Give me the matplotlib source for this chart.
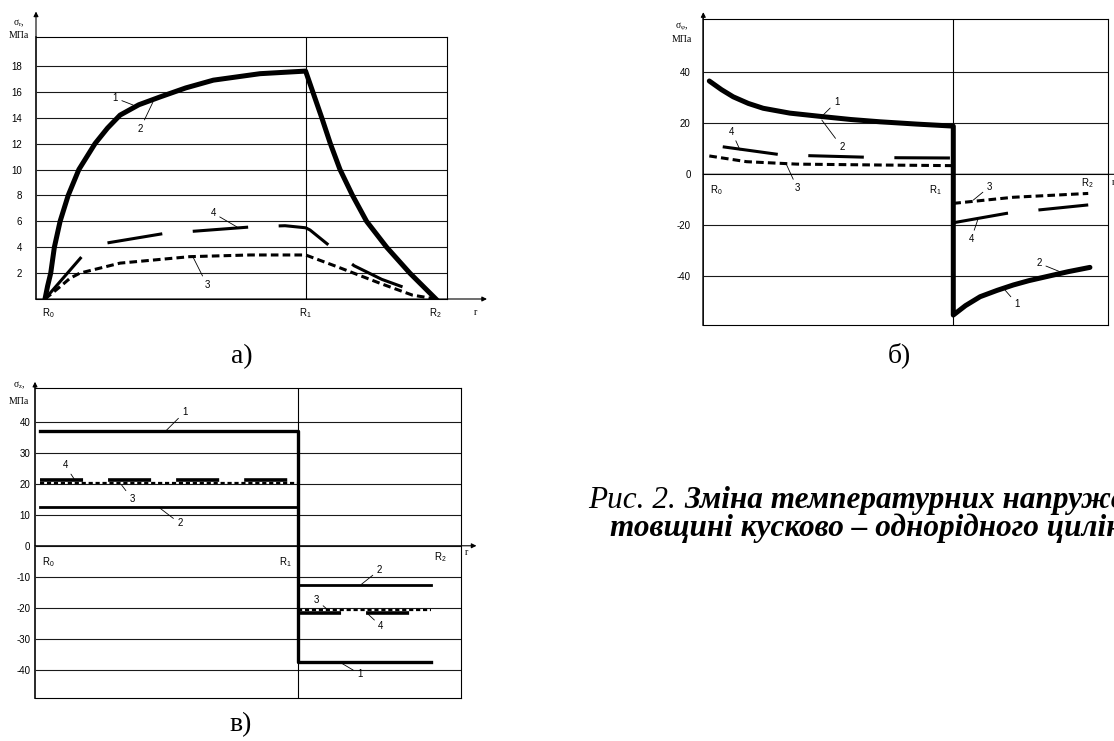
import matplotlib
matplotlib.use('Agg')
import matplotlib.pyplot as plt

plt.rcParams['font.family'] = ['Liberation Sans', 'DejaVu Sans']
plt.rcParams['lines.scale_dashes'] = False

W, H = 1114, 741

# ---- panel a) sigma_r ; r in units R0=0, R1=1, R2=1.5
ra_1 = [0, 0.010, 0.022, 0.036, 0.058, 0.089, 0.130, 0.192, 0.240, 0.288, 0.36,
        0.441, 0.54, 0.646, 0.825, 1.0,
        1.062, 1.095, 1.132, 1.18, 1.234, 1.311, 1.40, 1.45, 1.5]
sa_1 = [0, 1, 2, 4, 6, 8, 10, 12, 13.2, 14.2, 15.0,
        15.6, 16.3, 16.9, 17.4, 17.6,
        14, 12, 10, 8, 6, 4, 2, 1, 0]
ra_3 = [0, 0.058, 0.096, 0.134, 0.288, 0.556, 0.787, 1.0, 1.12, 1.286, 1.41, 1.5]
sa_3 = [0, 0.95, 1.6, 2.0, 2.77, 3.27, 3.4, 3.4, 2.5, 1.21, 0.3, 0]
ra_4 = [0, 0.141, 0.2, 0.46, 0.582, 0.8, 0.921, 1.0, 1.017, 1.186, 1.292, 1.5]
sa_4 = [0, 3.27, 4.2, 5.07, 5.25, 5.58, 5.66, 5.5, 5.33, 2.57, 1.52, 0]
yticks_a = [2, 4, 6, 8, 10, 12, 14, 16, 18]

# ---- panel б) sigma_phi
rb_1 = [0, 0.05, 0.098, 0.16, 0.221, 0.33, 0.467, 0.58, 0.70, 0.85, 1.0,
        1.0, 1.05, 1.11, 1.18, 1.246, 1.31, 1.383, 1.47, 1.56]
sb_1 = [36.6, 33.2, 30.4, 27.8, 25.9, 24.0, 22.6, 21.5, 20.6, 19.7, 18.9,
        -55.2, -51.5, -48, -45.5, -43.4, -41.7, -40.1, -38.2, -36.5]
rb_3_in = [0, 0.153, 0.358, 0.70, 1.0]
sb_3_in = [7.2, 4.95, 4.0, 3.65, 3.4]
rb_3_out = [1.0, 1.246, 1.553]
sb_3_out = [-11.4, -9.0, -7.5]
rb_4_in = [0.055, 0.283, 0.413, 0.645, 0.775, 1.0]
sb_4_in = [10.8, 7.8, 7.3, 6.7, 6.5, 6.4]
rb_4_out = [1.0, 1.219, 1.348, 1.553]
sb_4_out = [-19, -15.3, -14, -12]
yticks_b = [40, 20, 0, -20, -40]

# ---- panel в) sigma_z (piecewise constant)
rc_edges = [0, 1.0, 1.0, 1.513]
sc_1 = [37.1, -37.4]
sc_2 = [12.6, -12.7]
sc_3 = [20.2, -20.8]
sc_4 = [21.1, -21.7]
yticks_c = [40, 30, 20, 10, 0, -10, -20, -30, -40]

fig = plt.figure(figsize=(W / 100, H / 100), dpi=100)


def add_ax(x0, y0, x1, y1):
    return fig.add_axes([x0 / W, 1 - y1 / H, (x1 - x0) / W, (y1 - y0) / H])


def ftext(x, y, s, **kw):
    fig.text(x / W, 1 - y / H, s, **kw)


def frame(ax, xlim, ylim, yticks, pad, ytip, xtip=None, xarrow_y=0):
    ax.set_xlim(xlim)
    ax.set_ylim(ylim)
    ax.set_xticks([])
    ax.set_yticks(yticks)
    ax.set_yticklabels([str(t) for t in yticks])
    ax.tick_params(length=0, pad=pad, labelsize=7)
    ax.grid(axis='y', color='#1a1a1a', lw=0.8)
    ax.axvline(1.0, color='k', lw=0.8)
    for s in ax.spines.values():
        s.set_linewidth(0.8)
    ax.spines['left'].set_color('#666666')
    ax.spines['left'].set_linewidth(1.4)
    arr = dict(arrowstyle='-|>', color='k', lw=0.8, mutation_scale=7, shrinkA=0, shrinkB=0)
    ax.annotate('', xy=(xlim[0], ytip), xytext=(xlim[0], ylim[0]),
                arrowprops=arr, annotation_clip=False)
    if xtip is not None:
        ax.annotate('', xy=(xtip, xarrow_y), xytext=(xlim[0], xarrow_y),
                    arrowprops=arr, annotation_clip=False)


def lab(ax, s, txt, pt):
    ax.annotate(s, xy=pt, xytext=txt, ha='center', va='center', fontsize=7,
                arrowprops=dict(arrowstyle='-', lw=0.6, color='k', shrinkA=1, shrinkB=0),
                annotation_clip=False)


def steps(vals):
    return [vals[0], vals[0], vals[1], vals[1]]


serif = 'Liberation Serif'
dash_ab = (0, (40, 22))
dash_c = (0, (31, 18))
dot_ab = (0, (5.5, 3))
dot_c = (0, (3, 2))

# ================= a)
ax = add_ax(36, 37.3, 447, 299)
frame(ax, (-0.0345, 1.5426), (0, 20.21), yticks_a, 10, 22.2, xtip=1.696)
ax.plot(ra_1, sa_1, color='k', lw=3.6, solid_joinstyle='round')
ax.plot(ra_4, sa_4, color='k', lw=2.2, linestyle=dash_ab)
ax.plot(ra_3, sa_3, color='k', lw=2.2, linestyle=dot_ab)
lab(ax, '1', (0.269, 15.52), (0.338, 14.98))
lab(ax, '2', (0.365, 13.13), (0.414, 15.2))
lab(ax, '4', (0.645, 6.64), (0.737, 5.56))
lab(ax, '3', (0.622, 1.08), (0.568, 3.24))
for x, s in [(0.0115, r'$\mathregular{R_0}$'), (0.998, r'$\mathregular{R_1}$'),
             (1.497, r'$\mathregular{R_2}$')]:
    ax.text(x, -1.08, s, ha='center', va='center', fontsize=7, clip_on=False)
ax.text(1.65, -1.08, 'r', ha='center', va='center', fontsize=7, family=serif, clip_on=False)
ftext(19, 23, r'$\mathregular{σ_r}$,', ha='center', va='center', fontsize=7, family=serif)
ftext(19, 35, 'МПа', ha='center', va='center', fontsize=7, family=serif)
ftext(241.5, 356.7, 'а)', ha='center', va='center', fontsize=20, family=serif)

# ================= б)
ax = add_ax(703.3, 19.3, 1107.5, 325)
frame(ax, (-0.0246, 1.632), (-59.1, 60.8), yticks_b, 9, 63.6, xtip=1.75)
ax.plot(rb_1, sb_1, color='k', lw=3.6, solid_joinstyle='round', solid_capstyle='round')
ax.plot(rb_4_in, sb_4_in, color='k', lw=2.2, linestyle=dash_ab)
ax.plot(rb_4_out, sb_4_out, color='k', lw=2.2, linestyle=dash_ab)
ax.plot(rb_3_in, sb_3_in, color='k', lw=2.2, linestyle=dot_ab)
ax.plot(rb_3_out, sb_3_out, color='k', lw=2.2, linestyle=dot_ab)
lab(ax, '1', (0.522, 28.5), (0.467, 23.3))
lab(ax, '2', (0.543, 10.8), (0.461, 21.3))
lab(ax, '4', (0.092, 16.7), (0.126, 9.5))
lab(ax, '3', (0.361, -5.5), (0.314, 4.3))
lab(ax, '3', (1.148, -4.9), (1.082, -10.1))
lab(ax, '4', (1.073, -25.5), (1.1, -17.9))
lab(ax, '2', (1.352, -34.9), (1.437, -38.2))
lab(ax, '1', (1.262, -50.9), (1.212, -45.4))
ax.text(0.030, -6.2, r'$\mathregular{R_0}$', ha='center', va='center', fontsize=7)
ax.text(0.925, -6.2, r'$\mathregular{R_1}$', ha='center', va='center', fontsize=7)
ax.text(1.548, -3.4, r'$\mathregular{R_2}$', ha='center', va='center', fontsize=7)
ax.text(1.655, -3.4, 'r', ha='center', va='center', fontsize=7, family=serif, clip_on=False)
ftext(681.7, 26.7, r'$\mathregular{σ_φ}$,', ha='center', va='center', fontsize=7, family=serif)
ftext(681.7, 40, 'МПа', ha='center', va='center', fontsize=7, family=serif)
ftext(899, 355, 'б)', ha='center', va='center', fontsize=20, family=serif)

# ================= в)
ax = add_ax(35, 388.3, 460.7, 698.3)
frame(ax, (-0.0194, 1.629), (-49.2, 50.8), yticks_c, 3.5, 52.9, xtip=1.69)
ax.plot(rc_edges, steps(sc_1), color='k', lw=2.4)
ax.plot(rc_edges, steps(sc_2), color='k', lw=2.0)
ax.plot(rc_edges[:2], sc_4[:1] * 2, color='k', lw=2.6, linestyle=dash_c)
ax.plot(rc_edges[2:], sc_4[1:] * 2, color='k', lw=2.6, linestyle=dash_c)
ax.plot(rc_edges[:2], sc_3[:1] * 2, color='k', lw=1.6, linestyle=dot_c)
ax.plot(rc_edges[2:], sc_3[1:] * 2, color='k', lw=1.6, linestyle=dot_c)
lab(ax, '1', (0.561, 43.2), (0.49, 37.3))
lab(ax, '4', (0.097, 26.0), (0.135, 21.2))
lab(ax, '3', (0.357, 15.1), (0.316, 19.6))
lab(ax, '2', (0.542, 7.2), (0.465, 12.1))
lab(ax, '2', (1.314, -7.8), (1.245, -12.4))
lab(ax, '3', (1.071, -17.5), (1.112, -20.5))
lab(ax, '4', (1.32, -25.9), (1.267, -21.8))
lab(ax, '1', (1.239, -41.4), (1.168, -37.9))
ax.text(0.031, -5.2, r'$\mathregular{R_0}$', ha='center', va='center', fontsize=7)
ax.text(0.948, -5.2, r'$\mathregular{R_1}$', ha='center', va='center', fontsize=7)
ax.text(1.549, -3.5, r'$\mathregular{R_2}$', ha='center', va='center', fontsize=7)
ax.text(1.653, -2.3, 'r', ha='center', va='center', fontsize=7, family=serif, clip_on=False)
ftext(19, 385, r'$\mathregular{σ_z}$,', ha='center', va='center', fontsize=7, family=serif)
ftext(19, 402, 'МПа', ha='center', va='center', fontsize=7, family=serif)
ftext(241, 725, 'в)', ha='center', va='center', fontsize=20, family=serif)

# ================= caption (runs past the right edge, as in the source page)
ftext(588, 508, 'Рис. 2.', ha='left', va='baseline', fontsize=22.5, family=serif, style='italic')
ftext(684, 508, 'Зміна температурних напружень по', ha='left', va='baseline',
      fontsize=22.5, family=serif, style='italic', weight='bold')
ftext(610, 536, 'товщині кусково – однорідного циліндра', ha='left', va='baseline',
      fontsize=22.5, family=serif, style='italic', weight='bold')

fig.savefig('out.png', dpi=100)
